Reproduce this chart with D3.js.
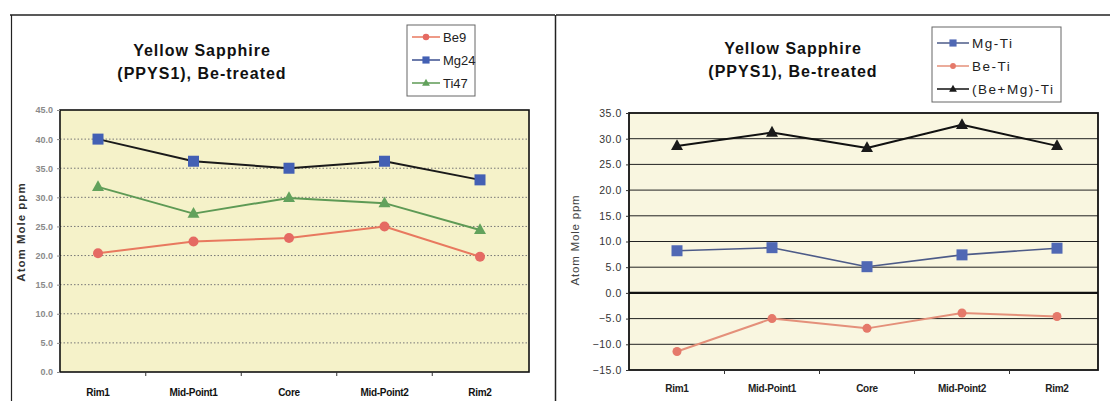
<!DOCTYPE html>
<html>
<head>
<meta charset="utf-8">
<script src="https://cdn.jsdelivr.net/npm/d3@7"></script>
<style>
  html, body { margin: 0; padding: 0; background: #fff; }
  svg { display: block; }
  text { font-family: "Liberation Sans", Arial, sans-serif; }
</style>
</head>
<body>
<svg id="chart" width="1110" height="401"></svg>
<script>
// Sampling positions across the stone
const positions = ["Rim1", "Mid-Point1", "Core", "Mid-Point2", "Rim2"];

// Trace element concentrations (atom mole ppm)
const be9  = [20.4, 22.4, 23.0, 25.0, 19.8];
const mg24 = [40.0, 36.2, 35.0, 36.2, 33.0];
const ti47 = [31.8, 27.2, 29.9, 29.0, 24.4];

// Charge balance differences (atom mole ppm)
const mgTi   = [8.2, 8.8, 5.1, 7.4, 8.7];
const beTi   = [-11.4, -5.0, -6.9, -3.9, -4.6];
const beMgTi = [28.6, 31.2, 28.2, 32.7, 28.6];

const leftTicks  = [0, 5, 10, 15, 20, 25, 30, 35, 40, 45];
const rightTicks = [-15, -10, -5, 0, 5, 10, 15, 20, 25, 30, 35];

const titleLines = ["Yellow Sapphire", "(PPYS1), Be-treated"];
const yTitle = "Atom Mole ppm";

const svg = d3.select("#chart");

// Outer frames of the two chart boxes
const frame = svg.append("g").attr("stroke", "#222").attr("fill", "none");
frame.append("line").attr("x1", 10).attr("x2", 555).attr("y1", 15).attr("y2", 15).attr("stroke-width", 1.5);
frame.append("line").attr("x1", 11.5).attr("x2", 11.5).attr("y1", 15).attr("y2", 401).attr("stroke-width", 1.2);
frame.append("line").attr("x1", 555.5).attr("x2", 555.5).attr("y1", 15).attr("y2", 401).attr("stroke-width", 1.5);
frame.append("line").attr("x1", 556).attr("x2", 1110).attr("y1", 15).attr("y2", 15).attr("stroke-width", 1.5);

function marker(g, shape, x, y, size, fill) {
  if (shape === "square") {
    g.append("rect").attr("x", x - size / 2).attr("y", y - size / 2)
      .attr("width", size).attr("height", size).attr("fill", fill);
  } else if (shape === "circle") {
    g.append("circle").attr("cx", x).attr("cy", y).attr("r", size / 2).attr("fill", fill);
  } else {
    const h = size * 0.9;
    g.append("path")
      .attr("d", `M${x},${y - h * 0.62}L${x + size / 2},${y + h * 0.38}L${x - size / 2},${y + h * 0.38}Z`)
      .attr("fill", fill);
  }
}

function drawPanel(cfg) {
  const g = svg.append("g");
  const { x0, x1, y0, y1 } = cfg.plot;

  const x = d3.scalePoint().domain(positions).range(cfg.xRange);
  const y = d3.scaleLinear().domain(cfg.domain).range([y1, y0]);

  // Plot background
  g.append("rect").attr("x", x0).attr("y", y0).attr("width", x1 - x0).attr("height", y1 - y0)
    .attr("fill", cfg.bg);

  // Gridlines
  g.append("g").selectAll("line").data(cfg.ticks.filter(t => t !== cfg.domain[0] && t !== cfg.domain[1]))
    .join("line")
    .attr("x1", x0).attr("x2", x1)
    .attr("y1", d => y(d)).attr("y2", d => y(d))
    .attr("stroke", d => (d === 0 && cfg.zeroLine) ? "#111" : cfg.gridColor)
    .attr("stroke-width", d => (d === 0 && cfg.zeroLine) ? 2.2 : cfg.gridWidth)
    .attr("stroke-dasharray", d => (d === 0 && cfg.zeroLine) ? null : cfg.gridDash);

  // Plot border
  g.append("rect").attr("x", x0).attr("y", y0).attr("width", x1 - x0).attr("height", y1 - y0)
    .attr("fill", "none").attr("stroke", "#111").attr("stroke-width", cfg.borderWidth);

  // Y axis
  const yAxis = d3.axisLeft(y).tickValues(cfg.ticks).tickFormat(d3.format(".1f")).tickSize(3).tickPadding(4);
  const ya = g.append("g").attr("transform", `translate(${x0},0)`).call(yAxis);
  ya.select(".domain").remove();
  ya.selectAll(".tick line").attr("stroke", cfg.tickColor);
  ya.selectAll(".tick text")
    .attr("font-size", cfg.tickFont).attr("fill", cfg.tickColor)
    .attr("font-weight", cfg.tickWeight).attr("letter-spacing", cfg.tickSpacing)
    .attr("font-family", "'Liberation Sans', Arial, sans-serif");

  // X axis: category labels with separators between categories
  const step = x.step();
  const sepTicks = positions.slice(1).map(p => x(p) - step / 2);
  g.append("g").selectAll("line").data(sepTicks).join("line")
    .attr("x1", d => d).attr("x2", d => d).attr("y1", y1).attr("y2", y1 + 4)
    .attr("stroke", "#333").attr("stroke-width", 1);
  g.append("g").selectAll("text").data(positions).join("text")
    .attr("x", d => x(d)).attr("y", cfg.xLabelY)
    .attr("text-anchor", "middle")
    .attr("font-size", cfg.xFont).attr("font-weight", "bold")
    .attr("fill", cfg.xColor).attr("letter-spacing", cfg.xSpacing)
    .text(d => d);

  // Y axis title
  g.append("text")
    .attr("transform", `translate(${cfg.yTitlePos[0]},${cfg.yTitlePos[1]}) rotate(-90)`)
    .attr("text-anchor", "middle")
    .attr("font-size", cfg.yTitleFont).attr("font-weight", cfg.yTitleWeight)
    .attr("fill", cfg.yTitleColor).attr("letter-spacing", cfg.yTitleSpacing)
    .text(yTitle);

  // Chart title
  g.append("g").selectAll("text").data(titleLines).join("text")
    .attr("x", cfg.titleX).attr("y", (d, i) => cfg.titleY + i * 23)
    .attr("text-anchor", "middle")
    .attr("font-size", 16).attr("font-weight", "bold").attr("fill", "#111")
    .attr("letter-spacing", cfg.titleSpacing)
    .text(d => d);

  // Series lines and markers
  const line = d3.line().x((d, i) => x(positions[i])).y(d => y(d));
  cfg.series.forEach(s => {
    g.append("path").datum(s.values)
      .attr("d", line).attr("fill", "none")
      .attr("stroke", s.lineColor).attr("stroke-width", s.lineWidth)
      .attr("stroke-linejoin", "round");
    const mg = g.append("g");
    s.values.forEach((v, i) => marker(mg, s.shape, x(positions[i]), y(v), s.size, s.fill));
  });

  // Legend
  const L = cfg.legend;
  const lg = g.append("g");
  lg.append("rect").attr("x", L.x).attr("y", L.y).attr("width", L.w).attr("height", L.h)
    .attr("fill", "#fff").attr("stroke", "#666").attr("stroke-width", 1);
  cfg.series.forEach((s, i) => {
    const s2 = cfg.legendOrder ? cfg.series[cfg.legendOrder[i]] : s;
    const cy = L.y + L.first + i * L.gap;
    lg.append("line").attr("x1", L.x + 5).attr("x2", L.x + 5 + L.lineLen)
      .attr("y1", cy).attr("y2", cy).attr("stroke", s2.legendLine || s2.lineColor).attr("stroke-width", 1.5);
    marker(lg, s2.shape, L.x + 5 + L.lineLen / 2, cy, s2.size * 0.65, s2.fill);
    lg.append("text").attr("x", L.x + 8 + L.lineLen).attr("y", cy + 4.5)
      .attr("font-size", L.font).attr("fill", "#222").attr("letter-spacing", L.spacing)
      .text(s2.name);
  });
}

drawPanel({
  plot: { x0: 60, x1: 529, y0: 110, y1: 372 },
  xRange: [98, 480],
  domain: [0, 45],
  ticks: leftTicks,
  bg: "#f5f2c9",
  gridColor: "#777",
  gridWidth: 1,
  gridDash: "1.5,2",
  borderWidth: 1.6,
  tickFont: 9, tickColor: "#8a8a8a", tickWeight: "bold", tickSpacing: 0,
  xLabelY: 396, xFont: 10, xColor: "#111", xSpacing: -0.3,
  yTitlePos: [25, 232], yTitleFont: 11.5, yTitleWeight: "bold", yTitleColor: "#333", yTitleSpacing: 1,
  titleX: 202, titleY: 56, titleSpacing: 1,
  series: [
    { name: "Be9",  values: be9,  shape: "circle",   size: 10, fill: "#e56a63", lineColor: "#e8795f", lineWidth: 2 },
    { name: "Mg24", values: mg24, shape: "square",   size: 11, fill: "#4360b4", lineColor: "#1a1a1a", lineWidth: 2, legendLine: "#3b4f8f" },
    { name: "Ti47", values: ti47, shape: "triangle", size: 12, fill: "#62a25c", lineColor: "#5e9a55", lineWidth: 2 }
  ],
  legend: { x: 407, y: 25, w: 68, h: 71, first: 12, gap: 23, lineLen: 28, font: 13, spacing: 0 }
});

drawPanel({
  plot: { x0: 629, x1: 1098, y0: 113, y1: 370 },
  xRange: [677, 1057],
  domain: [-15, 35],
  ticks: rightTicks,
  bg: "#f9f6e0",
  gridColor: "#222",
  gridWidth: 1,
  gridDash: null,
  zeroLine: true,
  borderWidth: 1.8,
  tickFont: 10.5, tickColor: "#333", tickWeight: "normal", tickSpacing: 0.6,
  xLabelY: 392, xFont: 10, xColor: "#222", xSpacing: -0.3,
  yTitlePos: [579, 240], yTitleFont: 11.5, yTitleWeight: "normal", yTitleColor: "#444", yTitleSpacing: 0.8,
  titleX: 793, titleY: 54, titleSpacing: 1,
  series: [
    { name: "Mg-Ti",      values: mgTi,   shape: "square",   size: 11, fill: "#5068b4", lineColor: "#4d5b88", lineWidth: 1.6 },
    { name: "Be-Ti",      values: beTi,   shape: "circle",   size: 9,  fill: "#e5796a", lineColor: "#e4907a", lineWidth: 2 },
    { name: "(Be+Mg)-Ti", values: beMgTi, shape: "triangle", size: 12, fill: "#1a1a1a", lineColor: "#111", lineWidth: 2 }
  ],
  legend: { x: 932, y: 27, w: 129, h: 75, first: 16, gap: 23, lineLen: 32, font: 13.5, spacing: 1.5 }
});
</script>
</body>
</html>
